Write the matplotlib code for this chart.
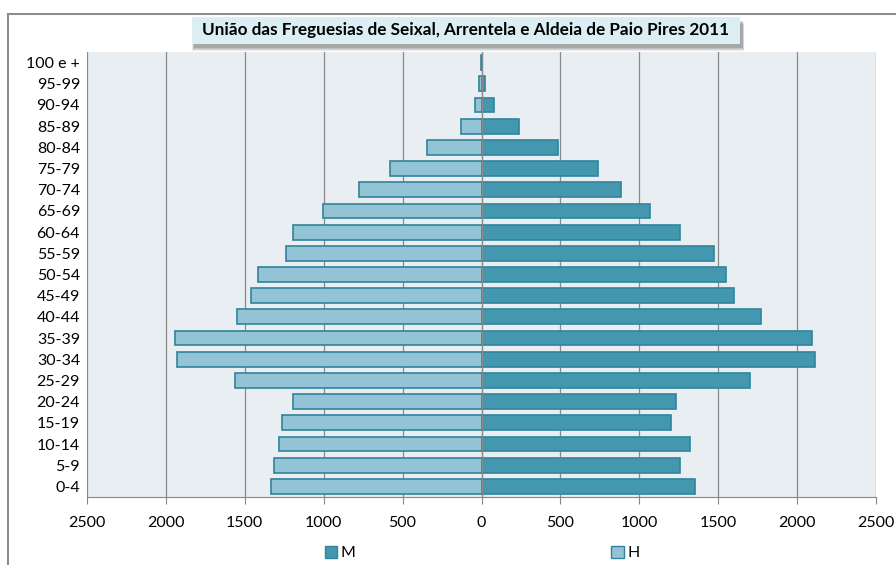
import matplotlib.pyplot as plt
from matplotlib.patches import Rectangle
from matplotlib.lines import Line2D

plt.rcParams['font.family'] = ['Lato', 'DejaVu Sans']

# Dados da pirâmide etária
grupos = ['0-4', '5-9', '10-14', '15-19', '20-24', '25-29', '30-34', '35-39',
          '40-44', '45-49', '50-54', '55-59', '60-64', '65-69', '70-74',
          '75-79', '80-84', '85-89', '90-94', '95-99', '100 e +']
mulheres = [1353, 1255, 1321, 1201, 1230, 1702, 2112, 2094, 1774, 1600, 1549,
            1473, 1259, 1070, 882, 740, 486, 239, 82, 25, 5]
homens = [1335, 1314, 1281, 1263, 1197, 1564, 1927, 1945, 1549, 1462, 1415,
          1237, 1197, 1005, 776, 577, 345, 131, 44, 15, 3]
ticks = [-2500, -2000, -1500, -1000, -500, 0, 500, 1000, 1500, 2000, 2500]
tick_labels = ['2500', '2000', '1500', '1000', '500', '0', '500', '1000', '1500', '2000', '2500']
titulo = 'União das Freguesias de Seixal, Arrentela e Aldeia de Paio Pires 2011'

cor_m = '#4398B0'
cor_h = '#93C4D6'
cor_borda = '#31849B'

fig = plt.figure(figsize=(8.96, 5.65), dpi=100)
ax = fig.add_axes([87/896, 1-497/565, 789/896, 445/565])
ax.set_facecolor('#E8EEF2')

y = range(len(grupos))
ax.barh(y, mulheres, height=0.7, color=cor_m, edgecolor=cor_borda, linewidth=1.2, zorder=3)
ax.barh(y, [-v for v in homens], height=0.7, color=cor_h, edgecolor=cor_borda, linewidth=1.2, zorder=3)

ax.set_xlim(-2500, 2500)
ax.set_ylim(-0.5, len(grupos) - 0.5)
ax.set_xticks(ticks)
ax.set_xticklabels(tick_labels, fontsize=11.5)
ax.set_yticks(list(y))
ax.set_yticklabels(grupos, fontsize=11.5)
ax.tick_params(axis='y', length=0, pad=5)
ax.tick_params(axis='x', direction='out', length=5, color='#868686', pad=9)
ax.grid(axis='x', color='#8a8a8a', linewidth=0.9, zorder=1)
ax.axvline(0, color='#8a8a8a', linewidth=0.9, zorder=4)
for s in ['top', 'right', 'left']:
    ax.spines[s].set_visible(False)
ax.spines['bottom'].set_color('#868686')

# Moldura exterior
fig.add_artist(Line2D([8/896, 1], [1-14/565, 1-14/565], color='#8c8c8c', linewidth=1.5))
fig.add_artist(Line2D([8/896, 8/896], [0, 1-14/565], color='#8c8c8c', linewidth=1.5))

# Caixa do título com sombra suave
x0, y0, w, h = 192/896, 1-44/565, 548/896, 27/565
for i, a in enumerate([0.10, 0.12, 0.15, 0.18]):
    d = (4 - i) / 896
    fig.add_artist(Rectangle((x0 + 2/896 - d/2, y0 - (7 - i) / 565), w + d, h, facecolor='#404040',
                             edgecolor='none', alpha=a))
fig.add_artist(Rectangle((x0, y0), w, h, facecolor='#DAEEF3', edgecolor='none'))
fig.text(x0 + w/2, y0 + h/2, titulo, ha='center', va='center', fontsize=12.3, fontweight='bold')

# Legenda
handles = [Rectangle((0, 0), 1, 1, facecolor=cor_m, edgecolor=cor_borda),
           Rectangle((0, 0), 1, 1, facecolor=cor_h, edgecolor=cor_borda)]
fig.legend(handles, ['M', 'H'], loc='center', bbox_to_anchor=(482/896, 1-553/565), ncol=2,
           frameon=False, fontsize=11.5, handlelength=0.8, handleheight=0.8,
           handletextpad=0.2, columnspacing=16)

plt.savefig('out.png', dpi=100)
